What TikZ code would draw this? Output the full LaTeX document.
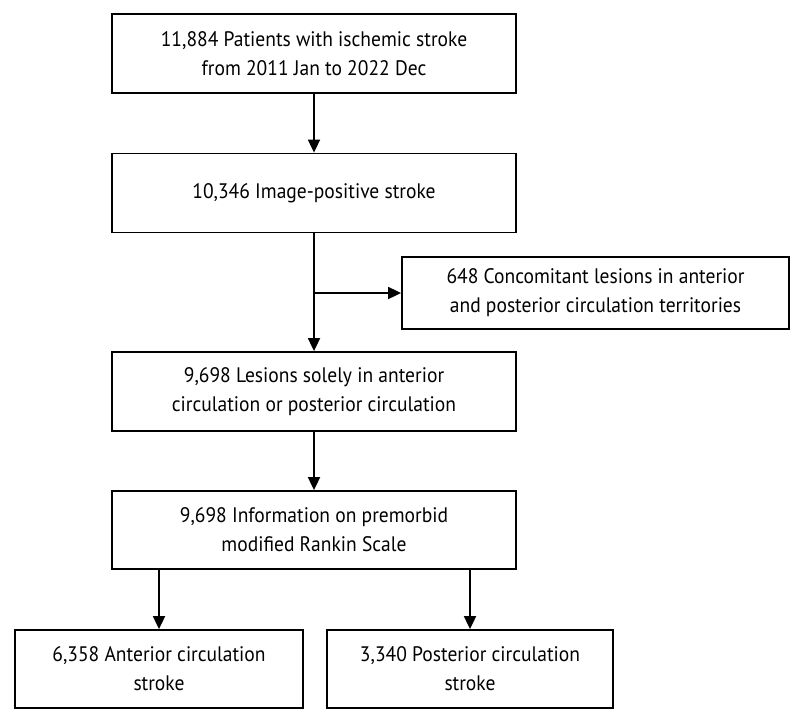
\documentclass[tikz,border=0pt]{standalone}
\usepackage{fontspec}
\setmainfont{PT Sans}[FakeStretch=0.93]
\usepackage{tikz}
\usetikzlibrary{arrows.meta}

\tikzset{
    box/.style={draw=black, line width=1.8pt, align=center, inner sep=0pt,
        font=\fontsize{21}{29}\selectfont, minimum height=79pt},
    wide/.style={box, minimum width=404pt},
    small/.style={box, minimum width=288pt},
    arr/.style={line width=1.8pt, -{Triangle[length=13pt,width=12pt]}}
}

\begin{document}
\begin{tikzpicture}[x=1pt,y=-1pt]
    \useasboundingbox (0,0) rectangle (799,720);
    %BOXES
    \node[wide] (patients) at (314,53.5) {11,884 Patients with ischemic stroke\\from 2011 Jan to 2022 Dec};
    \node[wide] (positive) at (314,193) {10,346 Image-positive stroke};
    \node[box, minimum width=387pt, minimum height=72pt] (concomitant) at (595.5,293) {648 Concomitant lesions in anterior\\and posterior circulation territories};
    \node[wide] (solely) at (314,391.5) {9,698 Lesions solely in anterior\\circulation or posterior circulation};
    \node[wide, minimum height=78pt] (rankin) at (314,530) {9,698 Information on premorbid\\modified Rankin Scale};
    \node[small, minimum height=78pt] (anterior) at (159,669) {6,358 Anterior circulation\\stroke};
    \node[small, minimum width=286pt, minimum height=78pt] (posterior) at (470,669) {3,340 Posterior circulation\\stroke};
    %ARROWS
    \coordinate (branch) at (positive.south |- concomitant.west);
    \draw[arr] (patients) -- (positive);
    \draw[arr] (positive) -- (solely);
    \draw[arr] (branch) -- (concomitant.west);
    \draw[arr] (solely) -- (rankin);
    \draw[arr] (anterior.north |- rankin.south) -- (anterior.north);
    \draw[arr] (posterior.north |- rankin.south) -- (posterior.north);
\end{tikzpicture}
\end{document}
